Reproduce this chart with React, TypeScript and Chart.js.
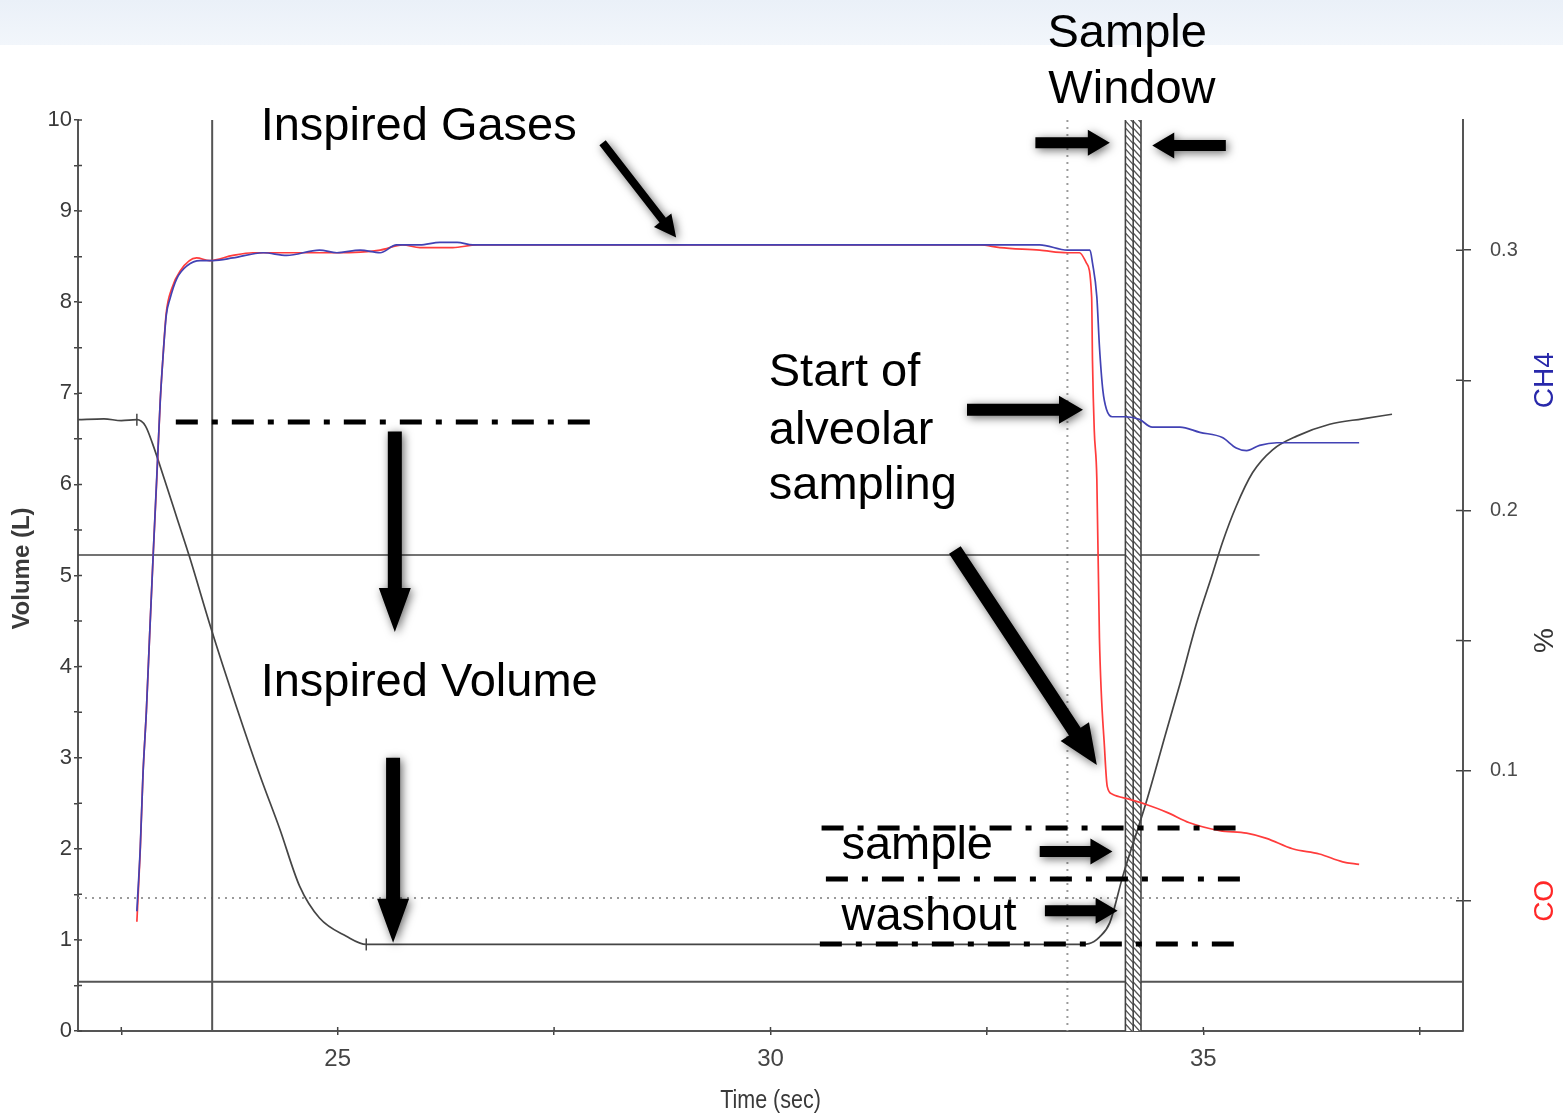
import React, { useEffect, useRef } from 'react';
import { Chart, registerables } from 'chart.js';

Chart.register(...registerables);

// ---------------- data ----------------
const volTime = [22.0, 22.3, 22.5, 22.68, 22.78, 22.86, 23.0, 23.14, 23.29, 23.54, 23.83, 24.10, 24.33, 24.56, 24.79, 25.10, 25.33, 26.0, 28.0, 30.0, 32.0, 33.5, 33.68, 33.8, 33.92, 34.07, 34.34, 34.57, 34.73, 34.92, 35.11, 35.22, 35.38, 35.57, 35.80, 36.08, 36.46, 36.84, 37.18];
const volume = [6.71, 6.72, 6.70, 6.71, 6.64, 6.45, 6.05, 5.64, 5.20, 4.41, 3.56, 2.81, 2.22, 1.59, 1.24, 1.04, 0.95, 0.95, 0.95, 0.95, 0.95, 0.95, 0.96, 1.03, 1.19, 1.70, 2.51, 3.28, 3.81, 4.47, 5.03, 5.36, 5.76, 6.13, 6.38, 6.53, 6.66, 6.72, 6.77];
const volMarkTimes = [22.68, 25.33];

const ch4Time = [22.68, 22.72, 22.75, 22.79, 22.83, 22.87, 22.91, 22.95, 22.98, 23.02, 23.06, 23.14, 23.26, 23.41, 23.56, 23.79, 24.14, 24.41, 24.79, 24.99, 25.26, 25.49, 25.68, 25.95, 26.18, 26.38, 26.56, 27.10, 28.5, 30.0, 31.5, 32.42, 33.11, 33.43, 33.69, 33.72, 33.77, 33.80, 33.84, 33.88, 33.95, 34.11, 34.26, 34.41, 34.73, 34.96, 35.22, 35.38, 35.50, 35.65, 35.85, 36.23, 36.61, 36.80];
const ch4 = [0.046, 0.071, 0.098, 0.123, 0.154, 0.184, 0.213, 0.242, 0.258, 0.275, 0.281, 0.289, 0.294, 0.296, 0.296, 0.297, 0.299, 0.298, 0.300, 0.299, 0.300, 0.299, 0.302, 0.302, 0.303, 0.303, 0.302, 0.302, 0.302, 0.302, 0.302, 0.302, 0.302, 0.300, 0.300, 0.295, 0.282, 0.263, 0.246, 0.239, 0.236, 0.236, 0.235, 0.232, 0.232, 0.230, 0.228, 0.224, 0.223, 0.225, 0.226, 0.226, 0.226, 0.226];

const coTime = [22.68, 22.72, 22.75, 22.79, 22.83, 22.87, 22.91, 22.95, 22.98, 23.02, 23.08, 23.18, 23.37, 23.52, 23.79, 24.02, 24.41, 24.64, 24.99, 25.49, 25.75, 25.95, 26.22, 26.33, 26.61, 27.5, 30.0, 32.0, 32.42, 32.65, 33.11, 33.43, 33.57, 33.65, 33.71, 33.72, 33.74, 33.77, 33.80, 33.86, 33.89, 33.95, 34.15, 34.34, 34.58, 34.84, 35.19, 35.50, 35.73, 36.03, 36.34, 36.61, 36.80];
const co = [0.042, 0.070, 0.098, 0.123, 0.154, 0.184, 0.212, 0.242, 0.258, 0.276, 0.285, 0.292, 0.297, 0.296, 0.298, 0.299, 0.299, 0.299, 0.299, 0.300, 0.302, 0.301, 0.301, 0.301, 0.302, 0.302, 0.302, 0.302, 0.302, 0.301, 0.300, 0.299, 0.299, 0.295, 0.282, 0.257, 0.231, 0.212, 0.151, 0.108, 0.094, 0.091, 0.089, 0.087, 0.084, 0.080, 0.077, 0.076, 0.074, 0.070, 0.068, 0.065, 0.064];

const xTicks = [22.5, 25, 27.5, 30, 32.5, 35, 37.5];
const xLabels = [25, 30, 35];
const y2Ticks = [0.05, 0.1, 0.15, 0.2, 0.25, 0.3];
const y2Labels = [0.1, 0.2, 0.3];

// reference markers (time in s, volume in L)
const cursorTime = 23.55;
const startTime = 33.43;
const windowTimes = [34.10, 34.19, 34.28];
const levelVolume = 5.225;
const levelEndTime = 35.65;
const baseVolume = 0.54;
const dottedVolume = 1.46;

// annotations: text, time, volume (baseline)
const annoTexts: [string, number, number][] = [
  ['Inspired Gases', 24.11, 9.78],
  ['Sample', 33.2, 10.8],
  ['Window', 33.21, 10.19],
  ['Start of', 29.98, 7.08],
  ['alveolar', 29.98, 6.44],
  ['sampling', 29.98, 5.84],
  ['Inspired Volume', 24.11, 3.68],
  ['sample', 30.82, 1.89],
  ['washout', 30.82, 1.11],
];
// arrows: from (t,v) to (t,v), shaft width, head width, head length
const arrows: number[][] = [
  [28.06, 9.75, 28.91, 8.71, 8, 22, 22],
  [25.66, 6.58, 25.66, 4.38, 14, 32, 44],
  [25.64, 3.0, 25.64, 0.97, 14, 32, 44],
  [32.27, 6.82, 33.61, 6.82, 12, 28, 24],
  [32.13, 5.28, 33.77, 2.92, 14, 34, 40],
  [33.06, 9.75, 33.92, 9.75, 11, 26, 22],
  [35.26, 9.72, 34.41, 9.72, 11, 26, 22],
  [33.11, 1.97, 33.95, 1.97, 11, 26, 22],
  [33.17, 1.32, 34.01, 1.32, 11, 26, 22],
];
// dash-dot guides: t1, t2, v
const dashDots: number[][] = [
  [23.13, 28.03, 6.685],
  [30.59, 35.42, 2.228],
  [30.64, 35.44, 1.668],
  [30.57, 35.40, 0.955],
];

const SANS = "'Liberation Sans', Arial, sans-serif";
const NARROW = "'Liberation Sans Narrow', 'Liberation Sans', Arial, sans-serif";

function drawArrow(ctx: CanvasRenderingContext2D, x1: number, y1: number, x2: number, y2: number, sw: number, hw: number, hl: number) {
  const a = Math.atan2(y2 - y1, x2 - x1);
  const len = Math.hypot(x2 - x1, y2 - y1);
  ctx.save();
  ctx.translate(x1, y1);
  ctx.rotate(a);
  ctx.beginPath();
  ctx.moveTo(0, -sw / 2);
  ctx.lineTo(len - hl, -sw / 2);
  ctx.lineTo(len - hl, -hw / 2);
  ctx.lineTo(len, 0);
  ctx.lineTo(len - hl, hw / 2);
  ctx.lineTo(len - hl, sw / 2);
  ctx.lineTo(0, sw / 2);
  ctx.closePath();
  ctx.fillStyle = '#000';
  ctx.shadowColor = 'rgba(0,0,0,0.6)';
  ctx.shadowBlur = 10;
  ctx.shadowOffsetX = 2;
  ctx.shadowOffsetY = 2;
  ctx.fill();
  ctx.restore();
}

const overlay = {
  id: 'overlay',
  beforeDraw(chart: any) {
    const ctx = chart.ctx;
    ctx.save();
    const g = ctx.createLinearGradient(0, 0, 0, 45);
    g.addColorStop(0, '#eaf0f8');
    g.addColorStop(1, '#f2f6fb');
    ctx.fillStyle = g;
    ctx.fillRect(0, 0, chart.width, 45);
    ctx.restore();
  },
  beforeDatasetsDraw(chart: any) {
    const { ctx, chartArea: ca, scales } = chart;
    const X = scales.x, Y = scales.y;
    ctx.save();
    // dotted lines
    ctx.strokeStyle = '#9a9a9a';
    ctx.lineWidth = 2;
    ctx.setLineDash([2, 5]);
    ctx.beginPath();
    const dy = Y.getPixelForValue(dottedVolume);
    ctx.moveTo(ca.left, dy); ctx.lineTo(ca.right, dy);
    const dx = X.getPixelForValue(startTime);
    ctx.moveTo(dx, ca.top); ctx.lineTo(dx, ca.bottom);
    ctx.stroke();
    ctx.setLineDash([]);
    // solid reference lines
    ctx.strokeStyle = '#555';
    ctx.lineWidth = 2;
    ctx.beginPath();
    const cx = X.getPixelForValue(cursorTime);
    ctx.moveTo(cx, ca.top); ctx.lineTo(cx, ca.bottom);
    const by = Y.getPixelForValue(baseVolume);
    ctx.moveTo(ca.left, by); ctx.lineTo(ca.right, by);
    ctx.stroke();
    ctx.strokeStyle = '#444';
    ctx.lineWidth = 1.5;
    ctx.beginPath();
    const ly = Y.getPixelForValue(levelVolume);
    ctx.moveTo(ca.left, ly); ctx.lineTo(X.getPixelForValue(levelEndTime), ly);
    ctx.stroke();
    // hatched sample window
    const wx = windowTimes.map((t) => X.getPixelForValue(t));
    ctx.fillStyle = '#fff';
    ctx.fillRect(wx[0], ca.top, wx[2] - wx[0], ca.bottom - ca.top);
    for (let k = 0; k < 2; k++) {
      const l = wx[k], r = wx[k + 1];
      ctx.save();
      ctx.beginPath();
      ctx.rect(l, ca.top, r - l, ca.bottom - ca.top);
      ctx.clip();
      ctx.strokeStyle = '#555';
      ctx.lineWidth = 1.3;
      ctx.beginPath();
      for (let y = ca.top - 20; y < ca.bottom + 20; y += 7) {
        ctx.moveTo(l, y);
        ctx.lineTo(r, y + (r - l) * 1.1);
      }
      ctx.stroke();
      ctx.restore();
    }
    ctx.strokeStyle = '#444';
    ctx.lineWidth = 1.6;
    ctx.beginPath();
    wx.forEach((x) => { ctx.moveTo(x, ca.top); ctx.lineTo(x, ca.bottom); });
    ctx.stroke();
    ctx.restore();
  },
  afterDraw(chart: any) {
    const { ctx, chartArea: ca, scales } = chart;
    const X = scales.x, Y = scales.y, Y2 = scales.y2;
    ctx.save();
    // inner halves of tick marks
    ctx.strokeStyle = '#444';
    ctx.lineWidth = 1.5;
    ctx.beginPath();
    Y.ticks.forEach((t: any) => { const p = Y.getPixelForValue(t.value); ctx.moveTo(ca.left, p); ctx.lineTo(ca.left + 4, p); });
    X.ticks.forEach((t: any) => { const p = X.getPixelForValue(t.value); ctx.moveTo(p, ca.bottom); ctx.lineTo(p, ca.bottom - 4); });
    Y2.ticks.forEach((t: any) => { const p = Y2.getPixelForValue(t.value); ctx.moveTo(ca.right, p); ctx.lineTo(ca.right - 7, p); });
    ctx.stroke();

    // axis titles
    ctx.fillStyle = '#3a3a3a';
    ctx.textAlign = 'center';
    ctx.textBaseline = 'middle';
    ctx.save();
    ctx.translate(ca.left - 56, (ca.top + ca.bottom) / 2 - 7);
    ctx.rotate(-Math.PI / 2);
    ctx.font = `bold 24px ${SANS}`;
    ctx.fillText('Volume (L)', 0, 0);
    ctx.restore();
    ctx.save();
    ctx.translate((ca.left + ca.right) / 2, ca.bottom + 70);
    ctx.scale(0.86, 1);
    ctx.font = `25px ${SANS}`;
    ctx.fillText('Time (sec)', 0, 0);
    ctx.restore();
    const rightTitles: [string, string, number][] = [['CH4', 'rgb(40,40,170)', 0.25], ['%', '#333', 0.15], ['CO', 'rgb(255,40,40)', 0.05]];
    rightTitles.forEach(([txt, col, v]) => {
      ctx.save();
      ctx.translate(ca.right + 82, Y2.getPixelForValue(v));
      ctx.rotate(-Math.PI / 2);
      ctx.font = `28px ${SANS}`;
      ctx.fillStyle = col;
      ctx.fillText(txt, 0, 0);
      ctx.restore();
    });

    // dash-dot guides
    ctx.strokeStyle = '#000';
    ctx.lineWidth = 5;
    ctx.setLineDash([22, 14, 6, 14]);
    dashDots.forEach(([t1, t2, v]) => {
      ctx.beginPath();
      const y = Y.getPixelForValue(v);
      ctx.moveTo(X.getPixelForValue(t1), y);
      ctx.lineTo(X.getPixelForValue(t2), y);
      ctx.stroke();
    });
    ctx.setLineDash([]);

    // arrows
    arrows.forEach(([t1, v1, t2, v2, sw, hw, hl]) => {
      drawArrow(ctx, X.getPixelForValue(t1), Y.getPixelForValue(v1), X.getPixelForValue(t2), Y.getPixelForValue(v2), sw, hw, hl);
    });

    // annotation texts
    ctx.fillStyle = '#000';
    ctx.textAlign = 'left';
    ctx.textBaseline = 'alphabetic';
    ctx.font = `47px ${SANS}`;
    annoTexts.forEach(([txt, t, v]) => {
      ctx.fillText(txt, X.getPixelForValue(t), Y.getPixelForValue(v));
    });
    ctx.restore();
  },
};

export default function App() {
  const ref = useRef<HTMLCanvasElement | null>(null);
  useEffect(() => {
    const canvas = ref.current;
    if (!canvas) return;
    const chart = new Chart(canvas, {
      type: 'line',
      data: {
        datasets: [
          {
            label: 'CH4',
            data: ch4Time.map((t, i) => ({ x: t, y: ch4[i] })),
            yAxisID: 'y2',
            borderColor: 'rgb(66,66,180)',
            borderWidth: 1.7,
            pointRadius: 0,
            cubicInterpolationMode: 'monotone',
          },
          {
            label: 'CO',
            data: coTime.map((t, i) => ({ x: t, y: co[i] })),
            yAxisID: 'y2',
            borderColor: 'rgb(255,60,60)',
            borderWidth: 1.7,
            pointRadius: 0,
            cubicInterpolationMode: 'monotone',
          },
          {
            label: 'Volume',
            data: volTime.map((t, i) => ({ x: t, y: volume[i] })),
            yAxisID: 'y',
            borderColor: '#454545',
            borderWidth: 1.7,
            pointStyle: 'line',
            pointRotation: 90,
            pointBorderColor: '#454545',
            pointBorderWidth: 1.5,
            pointRadius: (c: any) => (volMarkTimes.includes(volTime[c.dataIndex]) ? 6 : 0),
            cubicInterpolationMode: 'monotone',
          },
        ],
      } as any,
      options: {
        responsive: false,
        animation: false,
        events: [],
        layout: { padding: { top: 120, left: 0, right: 0, bottom: 0 } },
        plugins: { legend: { display: false }, tooltip: { enabled: false } },
        scales: {
          x: {
            type: 'linear',
            min: 22,
            max: 38,
            afterBuildTicks: (s: any) => { s.ticks = xTicks.map((v) => ({ value: v })); },
            afterFit: (s: any) => { s.height = 85; },
            ticks: {
              autoSkip: false,
              maxRotation: 0,
              padding: 10,
              color: '#444',
              font: { family: NARROW, size: 24 },
              callback: (v: any) => (xLabels.includes(Number(v)) ? String(v) : ''),
            },
            grid: { drawOnChartArea: false, tickLength: 4, color: '#444', lineWidth: 1.5 },
            border: { color: '#555', width: 2 },
          },
          y: {
            position: 'left',
            min: 0,
            max: 10,
            afterFit: (s: any) => { s.width = 78; },
            ticks: {
              stepSize: 0.5,
              autoSkip: false,
              padding: 2,
              color: '#3a3a3a',
              font: { family: SANS, size: 22 },
              callback: (v: any) => (Number(v) % 1 === 0 ? String(v) : ''),
            },
            grid: { drawOnChartArea: false, tickLength: 4, color: '#444', lineWidth: 1.5 },
            border: { color: '#555', width: 2 },
          },
          y2: {
            position: 'right',
            min: 0,
            max: 0.35,
            afterBuildTicks: (s: any) => { s.ticks = y2Ticks.map((v) => ({ value: v })); },
            afterFit: (s: any) => { s.width = 100; },
            ticks: {
              autoSkip: false,
              padding: 19,
              color: '#4a4a4a',
              font: { family: NARROW, size: 20 },
              callback: (v: any) => (y2Labels.some((l) => Math.abs(l - Number(v)) < 1e-9) ? Number(v).toFixed(1) : ''),
            },
            grid: { drawOnChartArea: false, tickLength: 8, color: '#444', lineWidth: 1.5 },
            border: { color: '#555', width: 2 },
          },
        },
      } as any,
      plugins: [overlay],
    });
    return () => chart.destroy();
  }, []);
  return (
    <div style={{ position: 'fixed', left: 0, top: 0, width: 1563, height: 1116, background: '#fff' }}>
      <canvas ref={ref} width={1563} height={1116} style={{ display: 'block' }} />
    </div>
  );
}
